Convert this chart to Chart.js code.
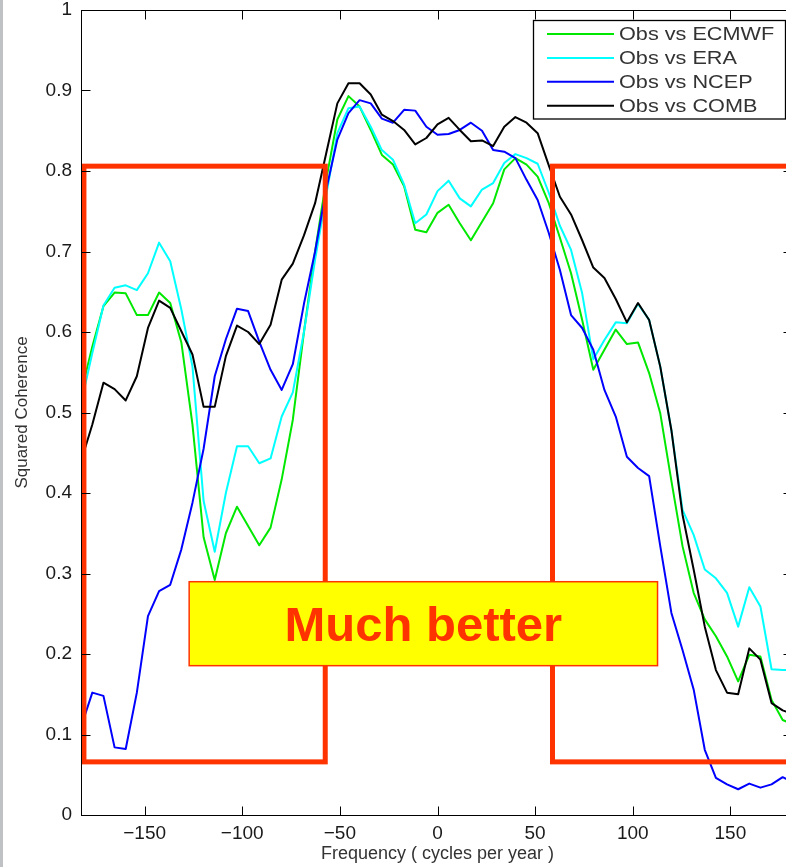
<!DOCTYPE html>
<html>
<head>
<meta charset="utf-8">
<script src="https://cdn.jsdelivr.net/npm/chart.js@4.4.1/dist/chart.umd.min.js"></script>
<style>
  html, body { margin: 0; padding: 0; background: #fff; overflow: hidden; }
  #wrap { position: relative; width: 786px; height: 867px; overflow: hidden; }
  #edge { position: absolute; left: 0; top: 0; width: 3px; height: 867px; background: #c0c1c5; }
</style>
</head>
<body>
<div id="wrap">
  <canvas id="plot" width="800" height="867"></canvas>
  <div id="edge"></div>
</div>
<script>
// frequency grid (cycles per year)
const freqs = [
  -182.5, -176.8, -171.1, -165.4, -159.7, -154.0, -148.3, -142.6, -136.9, -131.2, -125.5,
  -119.8, -114.1, -108.4, -102.7, -97.0, -91.3, -85.5, -79.8, -74.1, -68.4, -62.7,
  -57.0, -51.3, -45.6, -39.9, -34.2, -28.5, -22.8, -17.1, -11.4, -5.7, 0,
  5.7, 11.4, 17.1, 22.8, 28.5, 34.2, 39.9, 45.6, 51.3, 57.0, 62.7,
  68.4, 74.1, 79.8, 85.5, 91.3, 97.0, 102.7, 108.4, 114.1, 119.8, 125.5,
  131.2, 136.9, 142.6, 148.3, 154.0, 159.7, 165.4, 171.1, 176.8, 182.5
];

const ecmwf = [
  0.525, 0.582, 0.632, 0.649, 0.648, 0.621, 0.621, 0.649, 0.636, 0.587, 0.485,
  0.345, 0.292, 0.350, 0.383, 0.359, 0.335, 0.357, 0.417, 0.491, 0.600, 0.700,
  0.789, 0.864, 0.893, 0.880, 0.851, 0.820, 0.808, 0.781, 0.727, 0.724, 0.748,
  0.758, 0.735, 0.714, 0.737, 0.760, 0.802, 0.816, 0.808, 0.793, 0.760, 0.717,
  0.673, 0.615, 0.553, 0.578, 0.603, 0.585, 0.587, 0.549, 0.499, 0.415, 0.334,
  0.276, 0.243, 0.222, 0.197, 0.166, 0.199, 0.197, 0.143, 0.118, 0.112
];

const era = [
  0.512, 0.574, 0.633, 0.655, 0.658, 0.652, 0.673, 0.711, 0.688, 0.628, 0.557,
  0.390, 0.327, 0.400, 0.458, 0.458, 0.437, 0.443, 0.495, 0.525, 0.600, 0.690,
  0.770, 0.847, 0.878, 0.880, 0.855, 0.826, 0.814, 0.783, 0.735, 0.746, 0.775,
  0.788, 0.766, 0.756, 0.777, 0.785, 0.810, 0.821, 0.816, 0.809, 0.773, 0.732,
  0.702, 0.648, 0.566, 0.590, 0.612, 0.611, 0.635, 0.615, 0.557, 0.478, 0.379,
  0.348, 0.305, 0.294, 0.276, 0.234, 0.283, 0.259, 0.181, 0.180, 0.180
];

const ncep = [
  0.110, 0.152, 0.148, 0.084, 0.082, 0.152, 0.247, 0.278, 0.286, 0.330, 0.388,
  0.455, 0.545, 0.591, 0.629, 0.626, 0.588, 0.553, 0.528, 0.560, 0.635, 0.700,
  0.777, 0.839, 0.872, 0.888, 0.884, 0.865, 0.860, 0.876, 0.875, 0.855, 0.845,
  0.846, 0.851, 0.860, 0.850, 0.826, 0.824, 0.816, 0.789, 0.764, 0.723, 0.677,
  0.621, 0.605, 0.578, 0.528, 0.495, 0.445, 0.431, 0.421, 0.334, 0.251, 0.205,
  0.156, 0.081, 0.046, 0.038, 0.032, 0.039, 0.034, 0.038, 0.047, 0.040
];

const comb = [
  0.440, 0.485, 0.537, 0.529, 0.515, 0.545, 0.605, 0.639, 0.630, 0.601, 0.572,
  0.507, 0.507, 0.570, 0.608, 0.600, 0.585, 0.609, 0.665, 0.685, 0.720, 0.760,
  0.822, 0.884, 0.909, 0.909, 0.895, 0.870, 0.862, 0.851, 0.833, 0.841, 0.858,
  0.866, 0.851, 0.837, 0.838, 0.831, 0.855, 0.867, 0.860, 0.847, 0.807, 0.768,
  0.746, 0.714, 0.680, 0.667, 0.641, 0.612, 0.636, 0.615, 0.557, 0.478, 0.373,
  0.305, 0.234, 0.180, 0.152, 0.150, 0.207, 0.193, 0.139, 0.130, 0.125
];

const seriesNames = ['Obs vs ECMWF', 'Obs vs ERA', 'Obs vs NCEP', 'Obs vs COMB'];
const seriesColors = ['#00e800', '#00ffff', '#0000ff', '#000000'];
const xTicks = [-150, -100, -50, 0, 50, 100, 150];
const yTicks = [0, 0.1, 0.2, 0.3, 0.4, 0.5, 0.6, 0.7, 0.8, 0.9, 1];

// overlay boxes, in data units
const highlightBoxes = [
  { x0: -181.1, x1: -57.5, y0: 0.066, y1: 0.806 },
  { x0: 58.9, x1: 190, y0: 0.066, y1: 0.806 }
];
const callout = { text: 'Much better', x0: -127.2, x1: 112.7, y0: 0.1855, y1: 0.2898 };

const FONT = "'Liberation Sans', Arial, Helvetica, sans-serif";
const RED = '#ff3300';

const toPoints = (vals) => vals.map((v, i) => ({ x: freqs[i], y: v }));
const allSeries = [ecmwf, era, ncep, comb];

const overlays = {
  id: 'overlays',
  afterDatasetsDraw(chart) {
    const { ctx, chartArea: a, scales: { x, y } } = chart;
    ctx.save();

    // red highlight frames
    ctx.strokeStyle = RED;
    ctx.lineWidth = 5;
    ctx.lineJoin = 'miter';
    highlightBoxes.forEach(b => {
      const l = x.getPixelForValue(b.x0), r = x.getPixelForValue(b.x1);
      const t = y.getPixelForValue(b.y1), btm = y.getPixelForValue(b.y0);
      ctx.strokeRect(l, t, r - l, btm - t);
    });

    // yellow callout
    const cl = x.getPixelForValue(callout.x0), cr = x.getPixelForValue(callout.x1);
    const ct = y.getPixelForValue(callout.y1), cb = y.getPixelForValue(callout.y0);
    ctx.fillStyle = '#ffff00';
    ctx.fillRect(cl, ct, cr - cl, cb - ct);
    ctx.strokeStyle = RED;
    ctx.lineWidth = 1.5;
    ctx.strokeRect(cl, ct, cr - cl, cb - ct);
    ctx.fillStyle = RED;
    ctx.font = 'bold 49px ' + FONT;
    ctx.textAlign = 'center';
    ctx.textBaseline = 'alphabetic';
    ctx.fillText(callout.text, (cl + cr) / 2, (ct + cb) / 2 + 17.5);

    // frame and inward ticks
    ctx.strokeStyle = '#000';
    ctx.lineWidth = 1;
    const L = Math.round(a.left) + 0.5, R = Math.round(a.right) + 0.5;
    const T = Math.round(a.top) + 0.5, B = Math.round(a.bottom) + 0.5;
    ctx.strokeRect(L, T, R - L, B - T);
    ctx.beginPath();
    xTicks.forEach(v => {
      const px = Math.round(x.getPixelForValue(v)) + 0.5;
      ctx.moveTo(px, B); ctx.lineTo(px, B - 9);
      ctx.moveTo(px, T); ctx.lineTo(px, T + 9);
    });
    yTicks.forEach(v => {
      const py = Math.round(y.getPixelForValue(v)) + 0.5;
      ctx.moveTo(L, py); ctx.lineTo(L + 9, py);
      ctx.moveTo(R, py); ctx.lineTo(R - 11, py);
    });
    ctx.stroke();

    // legend box
    const bx = 533.5, by = 20.5, bw = 252, bh = 98.5;
    ctx.fillStyle = '#fff';
    ctx.fillRect(bx, by, bw, bh);
    ctx.strokeStyle = '#000';
    ctx.lineWidth = 1.3;
    ctx.strokeRect(bx, by, bw, bh);
    chart.data.datasets.forEach((ds, i) => {
      const ry = by + 13.5 + i * 23.9;
      ctx.strokeStyle = ds.borderColor;
      ctx.lineWidth = 2;
      ctx.beginPath();
      ctx.moveTo(547, ry);
      ctx.lineTo(614, ry);
      ctx.stroke();
      ctx.save();
      ctx.translate(619, ry);
      ctx.scale(1.14, 1);
      ctx.fillStyle = '#333';
      ctx.font = '19px ' + FONT;
      ctx.textAlign = 'left';
      ctx.textBaseline = 'middle';
      ctx.fillText(ds.label, 0, 1);
      ctx.restore();
    });

    ctx.restore();
  }
};

const ctx = document.getElementById('plot').getContext('2d');
const chart = new Chart(ctx, {
  type: 'line',
  data: {
    datasets: allSeries.map((vals, i) => ({
      label: seriesNames[i],
      data: toPoints(vals),
      borderColor: seriesColors[i],
      backgroundColor: seriesColors[i],
      borderWidth: 2,
      fill: false,
      order: allSeries.length - i
    }))
  },
  options: {
    responsive: false,
    animation: false,
    events: [],
    layout: { padding: { top: 10, right: 6, left: 0, bottom: 0 } },
    elements: {
      point: { radius: 0 },
      line: { tension: 0, borderJoinStyle: 'round', borderCapStyle: 'round' }
    },
    plugins: {
      legend: { display: false },
      tooltip: { enabled: false }
    },
    scales: {
      x: {
        type: 'linear',
        min: -182.6,
        max: 182.6,
        afterBuildTicks: s => { s.ticks = xTicks.map(v => ({ value: v })); },
        afterFit: s => { s.height = 52; s.paddingLeft = 0; s.paddingRight = 0; },
        grid: { display: false, drawTicks: false },
        border: { display: false },
        ticks: {
          padding: 7,
          color: '#1a1a1a',
          maxRotation: 0,
          autoSkip: false,
          font: { family: FONT, size: 19 },
          callback: v => v < 0 ? '\u2212' + Math.abs(v) : String(v)
        },
        title: {
          display: true,
          text: 'Frequency ( cycles per year )',
          color: '#333',
          font: { family: FONT, size: 18 },
          padding: { top: 0, bottom: 2 }
        }
      },
      y: {
        min: 0,
        max: 1,
        afterBuildTicks: s => { s.ticks = yTicks.map(v => ({ value: v })); },
        afterFit: s => { s.width = 81; s.paddingTop = 0; s.paddingBottom = 0; },
        grid: { display: false, drawTicks: false },
        border: { display: false },
        ticks: {
          padding: 9,
          color: '#1a1a1a',
          font: { family: FONT, size: 19 },
          callback: v => String(Math.round(v * 10) / 10)
        },
        title: {
          display: true,
          text: 'Squared Coherence',
          color: '#333',
          font: { family: FONT, size: 17 },
          padding: { top: 12, bottom: 0 }
        }
      }
    }
  },
  plugins: [overlays]
});
</script>
</body>
</html>
